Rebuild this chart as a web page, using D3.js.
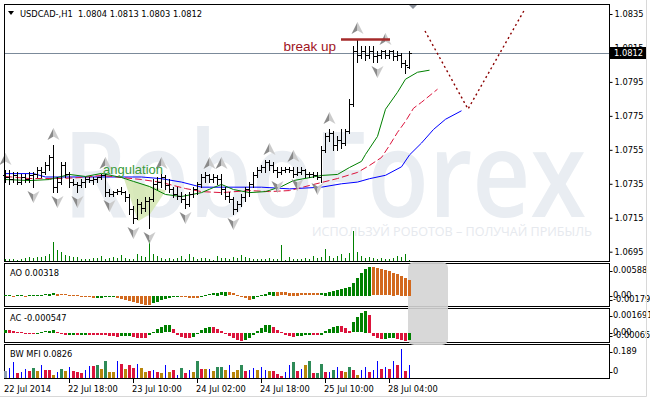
<!DOCTYPE html>
<html>
<head>
<meta charset="utf-8">
<script src="https://cdn.jsdelivr.net/npm/d3@7"></script>
<style>
  body { margin: 0; background: #fff; }
  svg { display: block; }
  text { font-family: "DejaVu Sans", sans-serif; }
  .lbl { font-size: 8.3px; fill: #000; white-space: pre; }
</style>
</head>
<body>
<svg width="650" height="399"></svg>
<script>
// values
const title = "USDCAD-,H1  1.0804 1.0813 1.0803 1.0812";

const opens = [1.0740,1.0739,1.0738,1.0740,1.0736,1.0739,1.0738,1.0740,1.0741,1.0743,
  1.0742,1.0746,1.0751,1.0733,1.0736,1.0746,1.0741,1.0736,1.0735,1.0734,
  1.0736,1.0738,1.0737,1.0738,1.0739,1.0740,1.0730,1.0729,1.0730,1.0731,
  1.0730,1.0727,1.0720,1.0715,1.0723,1.0721,1.0725,1.0726,1.0735,1.0736,
  1.0739,1.0734,1.0732,1.0729,1.0728,1.0726,1.0723,1.0729,1.0732,1.0735,
  1.0739,1.0740,1.0738,1.0739,1.0738,1.0732,1.0728,1.0726,1.0720,1.0723,
  1.0727,1.0732,1.0735,1.0740,1.0743,1.0745,1.0748,1.0746,1.0743,1.0742,
  1.0743,1.0744,1.0743,1.0741,1.0742,1.0743,1.0741,1.0741,1.0740,1.0739,
  1.0755,1.0763,1.0765,1.0758,1.0761,1.0759,1.0766,1.0782,1.0813,1.0811,
  1.0813,1.0811,1.0813,1.0810,1.0811,1.0813,1.0811,1.0813,1.0810,1.0811,
  1.0806,1.0804];
const highs = [1.0743,1.0743,1.0742,1.0742,1.0741,1.0741,1.0742,1.0742,1.0745,1.0745,
  1.0748,1.0752,1.0758,1.0739,1.0748,1.0748,1.0742,1.0738,1.0736,1.0738,
  1.0739,1.0739,1.0739,1.0739,1.0741,1.0741,1.0732,1.0731,1.0732,1.0733,
  1.0731,1.0729,1.0722,1.0726,1.0724,1.0727,1.0727,1.0738,1.0739,1.0741,
  1.0740,1.0738,1.0733,1.0733,1.0730,1.0729,1.0730,1.0733,1.0736,1.0741,
  1.0742,1.0741,1.0741,1.0740,1.0741,1.0733,1.0730,1.0727,1.0725,1.0729,
  1.0733,1.0736,1.0742,1.0745,1.0746,1.0749,1.0749,1.0748,1.0745,1.0745,
  1.0745,1.0745,1.0745,1.0745,1.0745,1.0744,1.0742,1.0742,1.0742,1.0757,
  1.0765,1.0767,1.0766,1.0763,1.0767,1.0767,1.0785,1.0816,1.0820,1.0816,
  1.0816,1.0816,1.0816,1.0813,1.0814,1.0814,1.0814,1.0814,1.0813,1.0812,
  1.0808,1.0813];
const lows = [1.0736,1.0735,1.0736,1.0735,1.0735,1.0736,1.0736,1.0733,1.0739,1.0739,
  1.0741,1.0743,1.0730,1.0730,1.0735,1.0739,1.0733,1.0734,1.0730,1.0733,
  1.0733,1.0736,1.0735,1.0736,1.0738,1.0728,1.0728,1.0728,1.0729,1.0729,
  1.0725,1.0717,1.0712,1.0714,1.0718,1.0719,1.0709,1.0725,1.0732,1.0733,
  1.0732,1.0730,1.0727,1.0726,1.0724,1.0721,1.0722,1.0727,1.0729,1.0733,
  1.0736,1.0736,1.0736,1.0735,1.0729,1.0726,1.0724,1.0717,1.0719,1.0722,
  1.0725,1.0728,1.0733,1.0739,1.0742,1.0742,1.0743,1.0742,1.0739,1.0741,
  1.0742,1.0742,1.0739,1.0740,1.0741,1.0739,1.0739,1.0739,1.0738,1.0736,
  1.0754,1.0760,1.0755,1.0755,1.0756,1.0758,1.0765,1.0781,1.0807,1.0809,
  1.0808,1.0809,1.0807,1.0807,1.0809,1.0809,1.0809,1.0808,1.0808,1.0804,
  1.0800,1.0803];
const closes = [1.0739,1.0738,1.0740,1.0736,1.0739,1.0738,1.0740,1.0741,1.0743,1.0742,
  1.0746,1.0751,1.0733,1.0736,1.0746,1.0741,1.0736,1.0735,1.0734,1.0736,
  1.0738,1.0737,1.0738,1.0739,1.0740,1.0730,1.0729,1.0730,1.0731,1.0730,
  1.0727,1.0720,1.0715,1.0723,1.0721,1.0725,1.0726,1.0735,1.0736,1.0739,
  1.0734,1.0732,1.0729,1.0728,1.0726,1.0723,1.0729,1.0732,1.0735,1.0739,
  1.0740,1.0738,1.0739,1.0738,1.0732,1.0728,1.0726,1.0720,1.0723,1.0727,
  1.0732,1.0735,1.0740,1.0743,1.0745,1.0748,1.0746,1.0743,1.0742,1.0743,
  1.0744,1.0743,1.0741,1.0742,1.0743,1.0741,1.0741,1.0740,1.0739,1.0755,
  1.0763,1.0765,1.0758,1.0761,1.0759,1.0766,1.0782,1.0813,1.0811,1.0813,
  1.0811,1.0813,1.0810,1.0811,1.0813,1.0811,1.0813,1.0810,1.0811,1.0806,
  1.0805,1.0812];
const volumes = [300,300,300,200,300,400,500,400,500,500,
  600,800,2000,1200,1000,700,600,500,500,300,
  300,300,400,400,600,300,400,500,400,700,
  400,300,300,800,600,500,2200,800,600,400,
  300,400,300,400,600,300,800,500,300,400,
  400,300,200,600,400,400,300,500,400,700,
  500,400,300,300,300,300,400,300,300,1700,
  200,500,300,300,300,400,300,600,400,500,
  1300,600,400,600,800,400,900,3100,1000,600,
  400,500,400,300,400,300,300,400,600,500,
  800,200];

// Alligator lines: [bar index, price]
const jaw = [[0,1.0741],[7,1.0741],[10,1.0739],[24,1.0739],[34,1.0739],[39,1.0738],[44,1.0736],
  [49,1.0733],[64,1.0733],[71,1.0732],[79,1.0733],[84,1.0735],[88,1.0736],[91,1.0738],[95,1.0740],
  [99,1.0745],[101,1.0752],[104,1.0759],[107,1.0767],[110,1.0773],[114,1.0778]];
const teeth = [[0,1.07393],[6,1.07381],[14,1.07381],[19,1.07387],[24,1.07399],[29,1.07387],[34,1.07375],
  [39,1.07358],[45,1.07322],[49,1.07304],[54,1.07298],[61,1.0731],[66,1.07304],[71,1.0731],[76,1.0734],
  [83,1.07381],[88,1.07417],[91,1.07458],[94,1.07505],[96,1.07576],[98,1.07653],[100,1.07718],
  [102,1.07795],[104,1.0783],[108,1.07907]];
const lips = [[0,1.07375],[6,1.07369],[11,1.07375],[16,1.07405],[20,1.07393],[24,1.07411],[29,1.07387],
  [32,1.07364],[36,1.07334],[40,1.07287],[44,1.07275],[49,1.07298],[52,1.07328],[54,1.07346],[57,1.07316],
  [61,1.07298],[65,1.07304],[69,1.07334],[72,1.07369],[79,1.07399],[83,1.07405],[86,1.07446],[89,1.07482],
  [90,1.07523],[93,1.07629],[95,1.07789],[98,1.07889],[100,1.07966],[103,1.08007],[106,1.08019]];

const fractalUp = [0,12,25,39,51,54,66,72,81,88,95];
const fractalDown = [7,13,18,26,32,36,45,57,68,73,78,93];

const aoValues = [0.00006,0.00006,-0.00006,0.00006,0.00006,-0.00006,0.00006,0.00006,0.0001,0.0002,
  0.0003,0.0004,0.0005,0.0004,0.0003,0.00024,0.0002,0.0001,0.00006,-0.00006,
  -0.0002,-0.0003,-0.0004,-0.00036,-0.00032,-0.0003,-0.00028,-0.00026,-0.0004,-0.0006,
  -0.0008,-0.001,-0.0012,-0.0014,-0.0016,-0.00172,-0.00179,-0.0015,-0.0012,-0.0009,
  -0.0006,-0.0004,-0.0003,-0.00024,-0.00028,-0.0003,-0.00034,-0.00036,-0.0004,-0.0001,
  0.0001,0.0003,0.0005,0.0006,0.0007,0.0008,0.0007,0.0005,0.0002,-0.0001,
  -0.0005,-0.00074,-0.0006,-0.0003,0.0001,0.0004,0.0007,0.0008,0.00076,0.0007,
  0.00066,0.0006,0.00056,0.00052,0.0005,0.00048,0.00046,0.00045,0.00044,0.0005,
  0.0006,0.0008,0.001,0.0012,0.0014,0.0016,0.0018,0.0026,0.0036,0.0046,
  0.0054,0.00588,0.0057,0.0055,0.0053,0.0051,0.0049,0.0046,0.0043,0.004,
  0.0036,0.00318];
const acValues = [0.00024,0.0002,0.00016,0.00008,0.00002,-0.00002,-0.00004,-0.00006,-0.00002,0.00004,
  0.0001,0.00016,0.0002,0.00004,-0.00008,-0.00016,-0.00014,-0.00012,-0.00016,-0.00014,
  -0.00012,-0.00014,-0.00015,-0.00016,-0.00017,-0.00018,-0.0002,-0.00024,-0.00028,-0.00026,
  -0.00024,-0.00022,-0.0003,-0.00036,-0.0004,-0.00042,-0.00016,0.00008,0.00028,0.00044,
  0.00056,0.00058,0.0003,-0.00016,-0.00028,-0.00036,-0.0004,-0.00032,-0.00008,0.00024,
  0.0004,0.00048,0.00044,0.00032,0.00016,-0.00008,-0.00024,-0.0004,-0.00056,-0.00065,
  -0.00056,-0.0004,-0.00016,0.00012,0.00036,0.00056,0.00062,0.00044,0.00024,0.00004,
  -0.00016,-0.00024,-0.00028,-0.00024,-0.0002,-0.00016,-0.00012,-0.00013,-0.00016,-0.00012,
  0.00012,0.00028,0.00044,0.00054,0.0005,0.00036,0.00016,0.0008,0.0012,0.0015,
  0.00169,0.0014,-0.00024,-0.0004,-0.00048,-0.00044,-0.0004,-0.00036,-0.00048,-0.00056,
  -0.00065,-0.000547];
const mfiValues = [0.046,0.065,0.104,0.033,0.039,0.059,0.046,0.065,0.046,0.085,
  0.052,0.052,0.020,0.039,0.059,0.046,0.072,0.046,0.039,0.033,
  0.052,0.078,0.078,0.085,0.059,0.111,0.039,0.039,0.111,0.091,
  0.059,0.085,0.065,0.091,0.065,0.039,0.046,0.052,0.039,0.033,
  0.085,0.039,0.052,0.020,0.065,0.033,0.052,0.039,0.111,0.059,
  0.059,0.059,0.046,0.072,0.072,0.052,0.085,0.039,0.052,0.085,
  0.046,0.052,0.065,0.052,0.072,0.052,0.046,0.046,0.026,0.013,
  0.039,0.085,0.104,0.046,0.059,0.085,0.111,0.033,0.033,0.091,
  0.039,0.039,0.052,0.072,0.046,0.039,0.072,0.052,0.020,0.052,
  0.072,0.039,0.052,0.111,0.059,0.072,0.059,0.111,0.085,0.189,
  0.046,0.0826];
// n = none, g = green, y = fade, b = fake, r = squat
const mfiStates = ["nbbrbbrgyb","rrybgybrrr","bbrgygyybr","yrrbyyrbry","byrbgrbygr",
  "ybyggybyyg","rbbybbyrrr","bbgrbygrgg","rbgbrygryb","brbbrbrbrb","rb"].join("").split("");

const forecast = [[105,1.0825],[115.75,1.0779],[130,1.0838]];
const breakLevel = 1.0820;
const breakRange = [84, 96.25];
const lastPrice = 1.0812;

const priceTicks = [1.0695,1.0715,1.0735,1.0755,1.0775,1.0795,1.0815,1.0835];
const aoTicks = [0.00588, 0, -0.00179];
const aoTickLabels = ["0.00588", "0.00", "-0.00179"];
const acTicks = [0.00169, 0, -0.00065];
const acTickLabels = ["0.001691", "0.00", "-0.00065"];
const mfiTicks = [0.189, 0];
const mfiTickLabels = ["0.189", "0"];
const timeIdx = [0,16,32,48,64,80,96];
const timeLabels = ["22 Jul 2014","22 Jul 18:00","23 Jul 10:00","24 Jul 02:00","24 Jul 18:00","25 Jul 10:00","28 Jul 04:00"];
const angleZone = [[29.75,1.0738],[40.25,1.0731],[36.25,1.0717],[33.25,1.0713]];

(function () {
  "use strict";
  const svg = d3.select("svg");
  const left = 4.5, right = 609.5;
  const panels = { main: [4.5, 261.5], ao: [263.5, 306.5], ac: [308.5, 342.5], mfi: [344.5, 378.5] };

  const xScale = d3.scaleLinear().domain([0, 151]).range([5, 609]);
  const cx = (i) => Math.round(xScale(i));
  const priceY = d3.scaleLinear().domain([1.0695, 1.0835]).range([251.7, 14]);
  const volY = d3.scaleLinear().domain([0, 3100]).range([261.5, 230.5]);
  const aoY = d3.scaleLinear().domain([-0.00179, 0.00588]).range([304.5, 266.5]);
  const acY = d3.scaleLinear().domain([-0.00065, 0.00169]).range([341, 311]);
  const mfiY = d3.scaleLinear().domain([0, 0.189]).range([378, 349]);

  svg.append("rect").attr("width", 650).attr("height", 399).attr("fill", "#fff");

  // watermark
  svg.append("text").text("RoboForex")
    .attr("x", 63).attr("y", 217)
    .attr("textLength", 523).attr("lengthAdjust", "spacingAndGlyphs")
    .style("font-family", "'Open Sans', sans-serif").style("font-size", "120px")
    .style("font-weight", 600)
    .attr("fill", "#e9edf2");
  svg.append("text").text("ИСПОЛЬЗУЙ РОБОТОВ – ПОЛУЧАЙ ПРИБЫЛЬ")
    .attr("x", 312).attr("y", 236)
    .attr("textLength", 280).attr("lengthAdjust", "spacingAndGlyphs")
    .style("font-family", "'Open Sans', sans-serif").style("font-size", "12px")
    .attr("fill", "#e6e9ee");

  // angulation zone
  svg.append("path")
    .attr("d", d3.line().x((d) => xScale(d[0])).y((d) => priceY(d[1]))(angleZone) + "Z")
    .attr("fill", "#d3e6b0").attr("opacity", 0.85);

  // last price line
  svg.append("line")
    .attr("x1", left).attr("x2", right)
    .attr("y1", Math.round(priceY(lastPrice)) + 0.5).attr("y2", Math.round(priceY(lastPrice)) + 0.5)
    .attr("stroke", "#7b8a9a");

  // volumes
  svg.append("g").attr("stroke", "#008000").attr("shape-rendering", "crispEdges")
    .selectAll("line").data(volumes).join("line")
    .attr("x1", (d, i) => cx(i) + 0.5).attr("x2", (d, i) => cx(i) + 0.5)
    .attr("y1", volY(0)).attr("y2", (d) => volY(d));

  // alligator
  const line = d3.line().x((d) => xScale(d[0]) + 0.5).y((d) => priceY(d[1]));
  svg.append("path").attr("d", line(jaw)).attr("fill", "none").attr("stroke", "#0000ff");
  svg.append("path").attr("d", line(teeth)).attr("fill", "none").attr("stroke", "#dc143c")
    .attr("stroke-dasharray", "7,3");
  svg.append("path").attr("d", line(lips)).attr("fill", "none").attr("stroke", "#008000");

  // OHLC bars
  const bars = opens.map((o, i) => ({ i, o, h: highs[i], l: lows[i], c: closes[i] }));
  const gBars = svg.append("g").attr("fill", "#000").attr("shape-rendering", "crispEdges");
  gBars.selectAll(".wick").data(bars).join("rect").attr("class", "wick")
    .attr("x", (d) => cx(d.i)).attr("width", 1)
    .attr("y", (d) => Math.round(priceY(d.h)))
    .attr("height", (d) => Math.max(1, Math.round(priceY(d.l)) - Math.round(priceY(d.h)) + 1));
  gBars.selectAll(".open").data(bars).join("rect").attr("class", "open")
    .attr("x", (d) => cx(d.i) - 2).attr("width", 2).attr("height", 1)
    .attr("y", (d) => Math.round(priceY(d.o)));
  gBars.selectAll(".close").data(bars).join("rect").attr("class", "close")
    .attr("x", (d) => cx(d.i) + 1).attr("width", 2).attr("height", 1)
    .attr("y", (d) => Math.round(priceY(d.c)));

  // fractal arrows
  const drawArrow = (g, flip) => {
    const s = flip ? -1 : 1;
    g.append("path").attr("d", `M0,${-6 * s}L-6,${6 * s}L0,${2.5 * s}Z`).attr("fill", "#8a8a8a");
    g.append("path").attr("d", `M0,${-6 * s}L6,${6 * s}L0,${2.5 * s}Z`).attr("fill", "#cbcbcb");
  };
  fractalUp.forEach((i) => {
    const g = svg.append("g")
      .attr("transform", `translate(${cx(i) + 0.5},${Math.round(priceY(highs[i])) - 11})`);
    drawArrow(g, false);
  });
  fractalDown.forEach((i) => {
    const g = svg.append("g")
      .attr("transform", `translate(${cx(i) + 0.5},${Math.round(priceY(lows[i])) + 10})`);
    drawArrow(g, true);
  });

  // annotations
  svg.append("text").text("angulation")
    .attr("x", xScale(24.5)).attr("y", priceY(1.07405))
    .style("font-family", "'Liberation Sans', Arial, sans-serif").style("font-size", "13px")
    .attr("fill", "#3a9a3a");
  svg.append("line")
    .attr("x1", xScale(breakRange[0])).attr("x2", xScale(breakRange[1]))
    .attr("y1", priceY(breakLevel)).attr("y2", priceY(breakLevel))
    .attr("stroke", "#a52a2a").attr("stroke-width", 2.5);
  svg.append("text").text("break up")
    .attr("x", xScale(82.75)).attr("y", priceY(1.0813)).attr("text-anchor", "end")
    .style("font-family", "'Liberation Sans', Arial, sans-serif").style("font-size", "13.5px")
    .attr("fill", "#a0141e");
  svg.append("path").attr("d", d3.line().x((d) => xScale(d[0])).y((d) => priceY(d[1]))(forecast))
    .attr("fill", "none").attr("stroke", "#8b0000").attr("stroke-width", 1.4)
    .attr("stroke-dasharray", "2,3");

  // shift marker and header
  svg.append("path")
    .attr("d", `M${xScale(102) - 4},5L${xScale(102) + 4},5L${xScale(102)},9Z`)
    .attr("fill", "#8a909a");
  svg.append("path").attr("d", "M8,11L14,11L11,15Z").attr("fill", "#000");
  svg.append("text").attr("class", "lbl").attr("x", 20).attr("y", 16.5).text(title);

  // panel frames
  const frames = svg.append("g").attr("fill", "none").attr("stroke", "#000").attr("shape-rendering", "crispEdges");
  Object.values(panels).forEach(([t, b]) => {
    frames.append("rect").attr("x", left).attr("y", t).attr("width", right - left).attr("height", b - t);
  });

  // gray overlay on oscillators
  svg.append("rect")
    .attr("x", xScale(100.75)).attr("y", 262).attr("width", 40).attr("height", 83)
    .attr("rx", 6).attr("fill", "#d4d4d4").attr("opacity", 0.9);

  // AO and AC histograms
  const histo = (values, yS, colorFn) => {
    svg.append("g").attr("shape-rendering", "crispEdges")
      .selectAll("rect").data(values).join("rect")
      .attr("x", (d, i) => cx(i) - 1).attr("width", 3)
      .attr("y", (d) => Math.round(yS(Math.max(0, d))))
      .attr("height", (d) => Math.max(1, Math.round(Math.abs(yS(d) - yS(0)))))
      .attr("fill", colorFn);
  };
  histo(aoValues, aoY, (d, i) => (i === 0 || d >= aoValues[i - 1] ? "#008000" : "#d2691e"));
  histo(acValues, acY, (d, i) => (i === 0 || d >= acValues[i - 1] ? "#008000" : "#dc143c"));

  // BW MFI
  const mfiColor = d3.scaleOrdinal().domain(["n", "g", "y", "b", "r"])
    .range(["#8c9bb0", "#2e8b57", "#b8860b", "#0000ff", "#dc143c"]);
  svg.append("g").attr("shape-rendering", "crispEdges")
    .selectAll("rect").data(mfiValues).join("rect")
    .attr("x", (d, i) => (mfiStates[i] === "b" ? cx(i) : cx(i) - 1))
    .attr("width", (d, i) => (mfiStates[i] === "b" ? 1 : 3))
    .attr("y", (d) => Math.round(mfiY(d)))
    .attr("height", (d) => Math.round(mfiY(0) - mfiY(d)))
    .attr("fill", (d, i) => mfiColor(mfiStates[i]));

  // panel labels
  svg.append("text").attr("class", "lbl").attr("x", 10).attr("y", 275.5).text("AO 0.00318");
  svg.append("text").attr("class", "lbl").attr("x", 10).attr("y", 320.5).text("AC -0.000547");
  svg.append("text").attr("class", "lbl").attr("x", 10).attr("y", 357).text("BW MFI 0.0826");

  // price axis
  const yAxisG = svg.append("g")
    .attr("transform", `translate(${right},0)`)
    .call(d3.axisRight(priceY).tickValues(priceTicks).tickSize(3).tickPadding(2).tickFormat(d3.format(".4f")));
  yAxisG.selectAll(".domain").remove();
  yAxisG.selectAll("text").attr("class", "lbl").attr("font-family", null).attr("font-size", null);

  svg.append("rect")
    .attr("x", 610).attr("y", Math.round(priceY(lastPrice)) - 6).attr("width", 37).attr("height", 12)
    .attr("fill", "#000");
  svg.append("text").attr("class", "lbl").attr("x", 614).attr("y", priceY(lastPrice)).attr("dy", "0.34em")
    .style("fill", "#fff").text(d3.format(".4f")(lastPrice));

  // oscillator scales
  const sideLabels = (ticks, labels, yS, [t, b]) => {
    ticks.forEach((v, k) => {
      const y = Math.min(b - 7, Math.max(t + 7, yS(v)));
      svg.append("line").attr("x1", right).attr("x2", right + 3).attr("y1", Math.round(y) + 0.5)
        .attr("y2", Math.round(y) + 0.5).attr("stroke", "#000");
      svg.append("text").attr("class", "lbl").attr("x", 613).attr("y", y).attr("dy", "0.34em").text(labels[k]);
    });
  };
  sideLabels(aoTicks, aoTickLabels, aoY, panels.ao);
  sideLabels(acTicks, acTickLabels, acY, panels.ac);
  sideLabels(mfiTicks, mfiTickLabels, mfiY, panels.mfi);

  // time axis
  const xAxisG = svg.append("g");
  xAxisG.selectAll("line").data(timeIdx.slice(1)).join("line")
    .attr("x1", (d) => cx(d) + 0.5).attr("x2", (d) => cx(d) + 0.5)
    .attr("y1", 379).attr("y2", 383).attr("stroke", "#000");
  xAxisG.selectAll("text").data(timeIdx).join("text").attr("class", "lbl")
    .attr("x", (d) => cx(d) - 1).attr("y", 391.5)
    .text((d, k) => timeLabels[k]);

  // outer frame
  svg.append("path").attr("d", "M646.5,0V396.5H0").attr("fill", "none").attr("stroke", "#d8d8d8");
})();
</script>
</body>
</html>
